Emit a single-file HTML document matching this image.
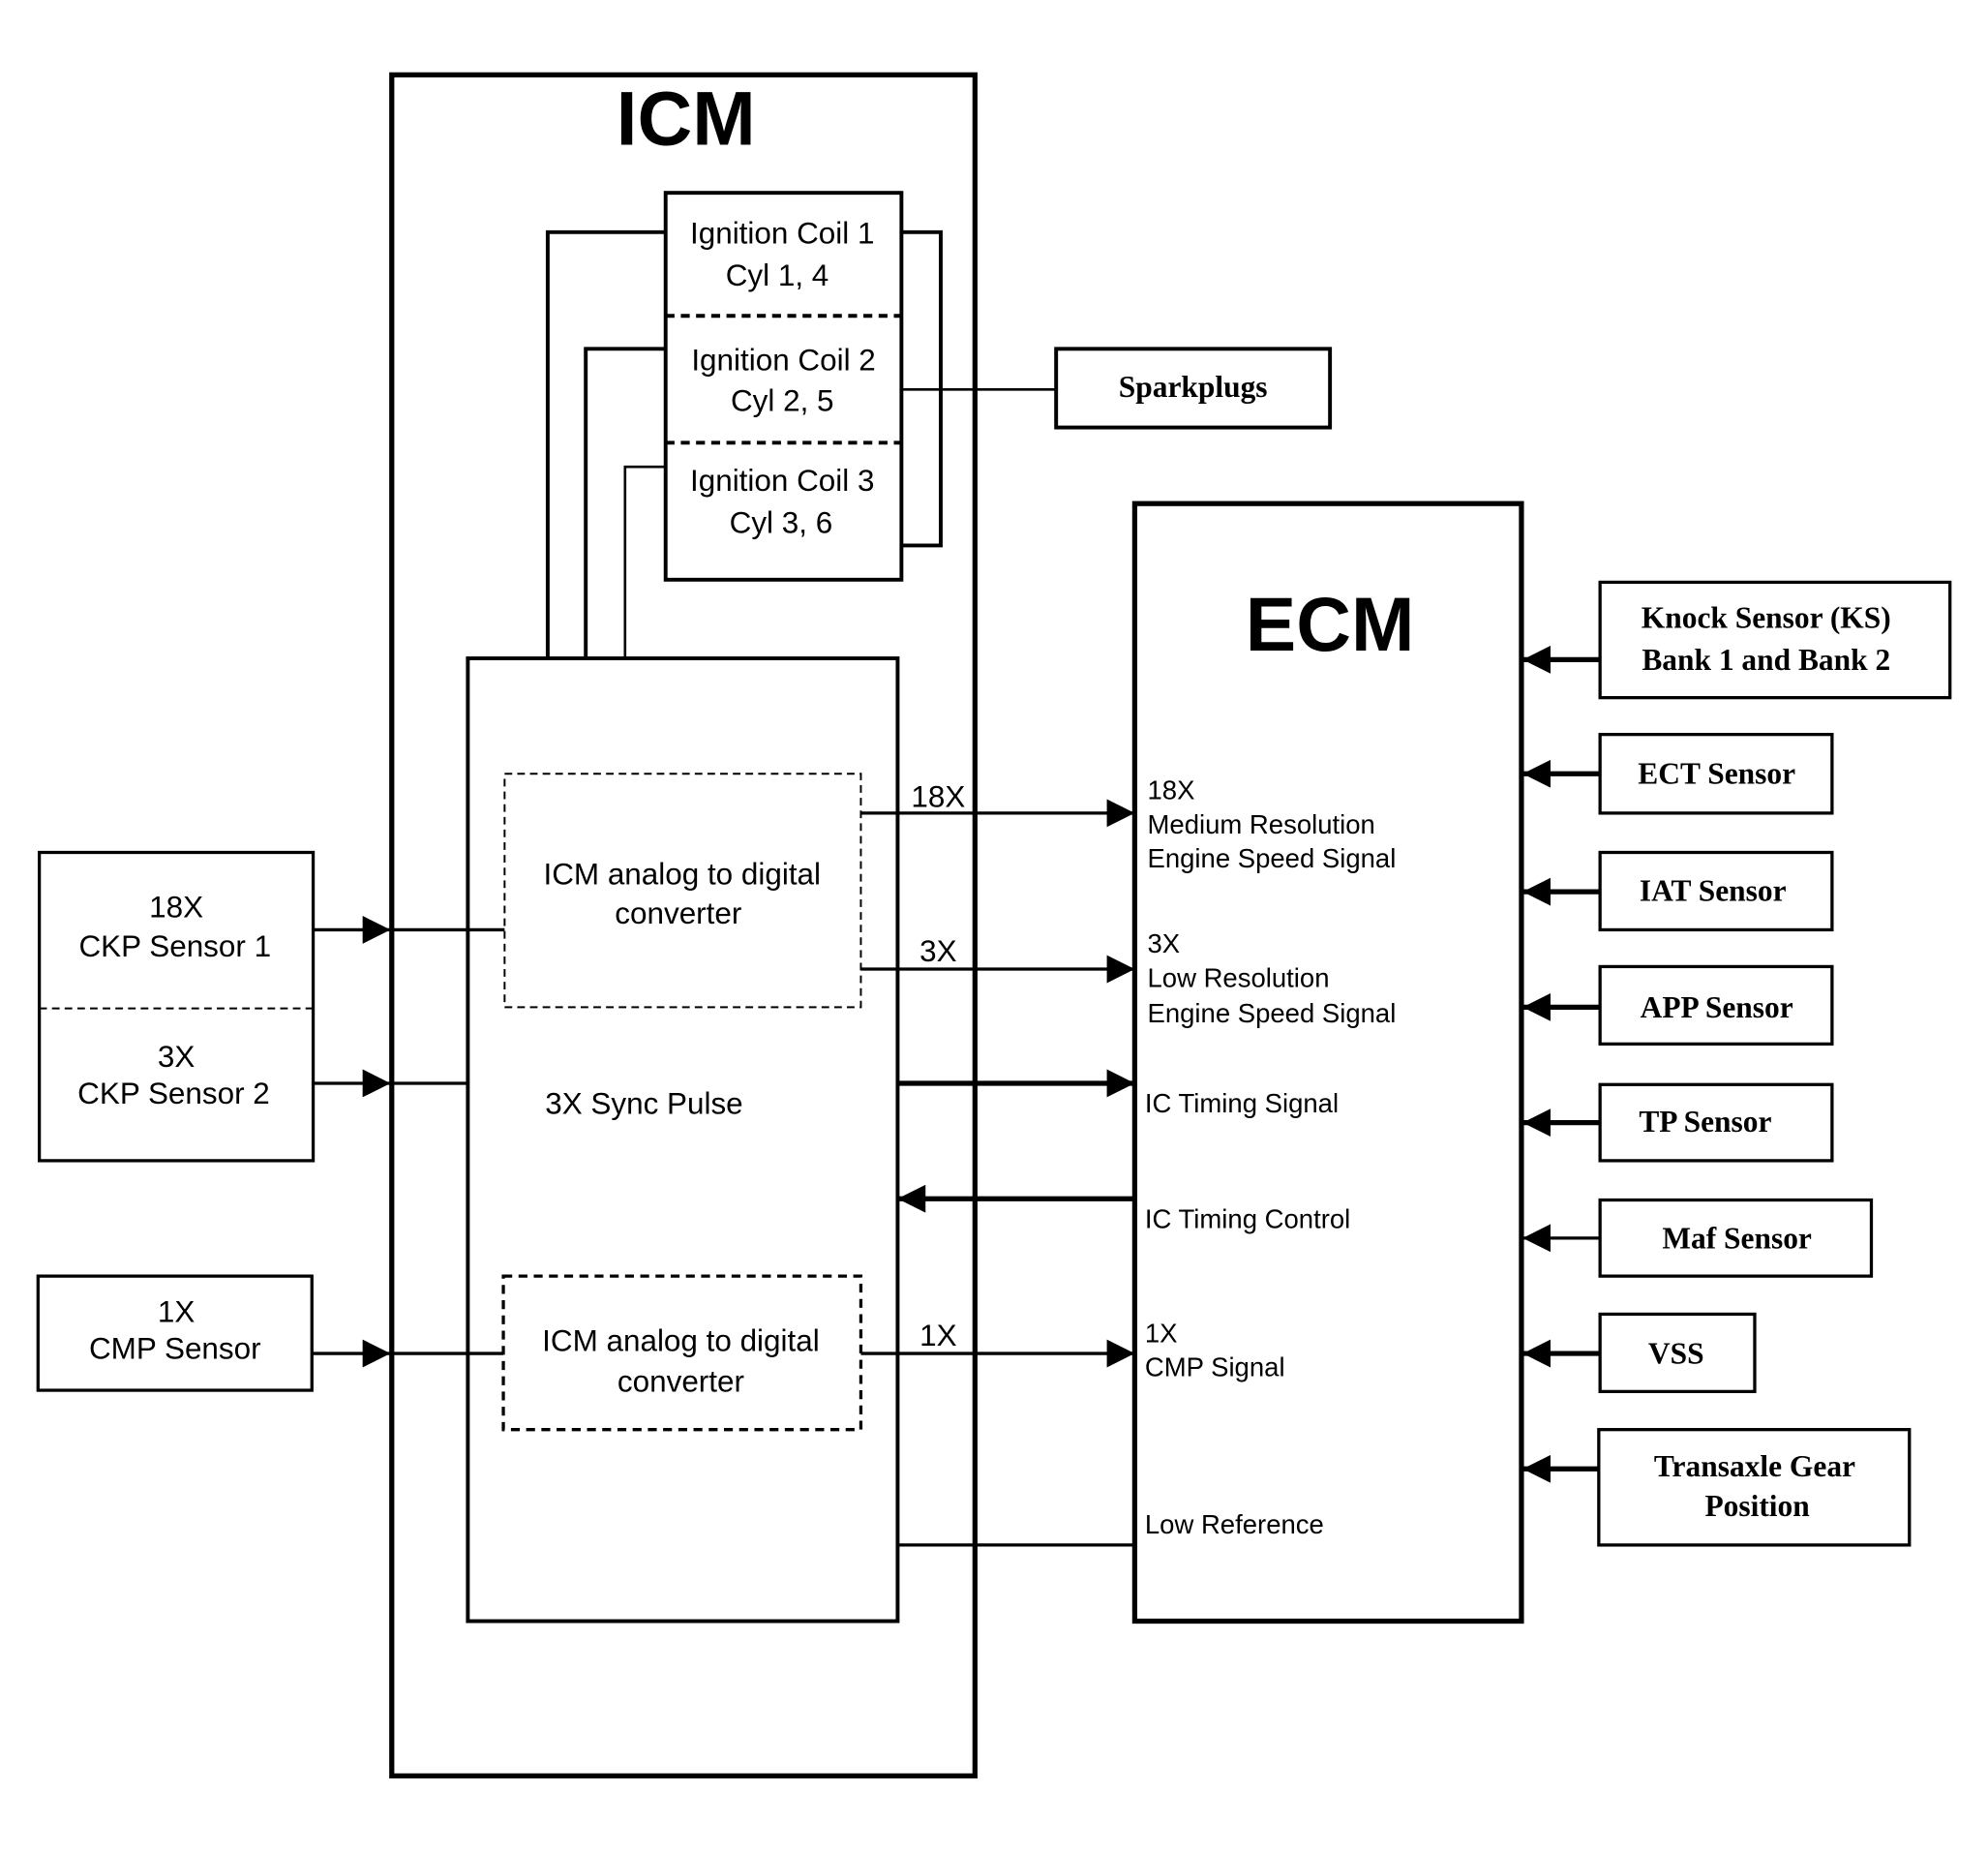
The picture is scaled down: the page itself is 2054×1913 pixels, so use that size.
<!DOCTYPE html>
<html><head><meta charset="utf-8"><style>
html,body{margin:0;padding:0;background:#fff}
svg{display:block}
.s{font-family:"Liberation Sans",sans-serif;font-size:24px}
.m{font-family:"Liberation Sans",sans-serif;font-size:21px}
.b{font-family:"Liberation Serif",serif;font-size:24px;font-weight:bold}
</style></head><body>
<svg width="2054" height="1913" viewBox="0 0 1568 1460" preserveAspectRatio="none" xmlns="http://www.w3.org/2000/svg">
<defs>
<marker id="a" viewBox="0 0 10 10" refX="10" refY="5" markerWidth="22" markerHeight="22" markerUnits="userSpaceOnUse" orient="auto"><path d="M0,0L10,5L0,10z" fill="#000"/></marker>
</defs>
<rect width="1568" height="1460" fill="#fff"/>
<g fill="none" stroke="#000">
<rect x="309" y="59" width="460" height="1341" stroke-width="4"/>
<rect x="525" y="152" width="186" height="305" stroke-width="3"/>
<line x1="525" y1="249" x2="711" y2="249" stroke-width="3" stroke-dasharray="7,5"/>
<line x1="525" y1="349" x2="711" y2="349" stroke-width="3" stroke-dasharray="7,5"/>
<polyline points="432,519 432,183 525,183" stroke-width="3"/>
<polyline points="462,519 462,275 525,275" stroke-width="3"/>
<polyline points="493,519 493,368 525,368" stroke-width="2"/>
<polyline points="711,183 742,183 742,430 711,430" stroke-width="3"/>
<line x1="711" y1="307" x2="833" y2="307" stroke-width="2"/>
<rect x="833" y="275" width="216" height="62" stroke-width="3"/>
<rect x="369" y="519" width="339" height="759" stroke-width="3"/>
<rect x="398" y="610" width="281" height="184" stroke-width="1.5" stroke-dasharray="6,4"/>
<rect x="397" y="1006" width="282" height="121" stroke-width="2.5" stroke-dasharray="7,5"/>
<rect x="895" y="397" width="305" height="881" stroke-width="4"/>
<rect x="31" y="672" width="216" height="243" stroke-width="2.5"/>
<line x1="31" y1="795" x2="247" y2="795" stroke-width="1.5" stroke-dasharray="6,4"/>
<rect x="30" y="1006" width="216" height="90" stroke-width="2.5"/>
<g stroke-width="2.5">
<line x1="247" y1="733" x2="308" y2="733" marker-end="url(#a)"/>
<line x1="309" y1="733" x2="398" y2="733"/>
<line x1="247" y1="854" x2="308" y2="854" marker-end="url(#a)"/>
<line x1="309" y1="854" x2="369" y2="854"/>
<line x1="246" y1="1067" x2="308" y2="1067" marker-end="url(#a)"/>
<line x1="309" y1="1067" x2="397" y2="1067"/>
<line x1="679" y1="641" x2="895" y2="641" marker-end="url(#a)"/>
<line x1="679" y1="764" x2="895" y2="764" marker-end="url(#a)"/>
<line x1="708" y1="854" x2="895" y2="854" stroke-width="4" marker-end="url(#a)"/>
<line x1="895" y1="945" x2="708" y2="945" stroke-width="4" marker-end="url(#a)"/>
<line x1="679" y1="1067" x2="895" y2="1067" marker-end="url(#a)"/>
<line x1="708" y1="1218" x2="895" y2="1218"/>
</g>
<g stroke-width="2.5">
<rect x="1262" y="459" width="276" height="91"/>
<rect x="1262" y="579" width="183" height="62"/>
<rect x="1262" y="672" width="183" height="61"/>
<rect x="1262" y="762" width="183" height="61"/>
<rect x="1262" y="855" width="183" height="60"/>
<rect x="1262" y="946" width="214" height="60"/>
<rect x="1262" y="1036" width="122" height="61"/>
<rect x="1261" y="1127" width="245" height="91"/>
</g>
<g stroke-width="4">
<line x1="1262" y1="520" x2="1201" y2="520" marker-end="url(#a)"/>
<line x1="1262" y1="610" x2="1201" y2="610" marker-end="url(#a)"/>
<line x1="1262" y1="703" x2="1201" y2="703" marker-end="url(#a)"/>
<line x1="1262" y1="794" x2="1201" y2="794" marker-end="url(#a)"/>
<line x1="1262" y1="885" x2="1201" y2="885" marker-end="url(#a)"/>
<line x1="1262" y1="976" x2="1201" y2="976" stroke-width="2.5" marker-end="url(#a)"/>
<line x1="1262" y1="1067" x2="1201" y2="1067" marker-end="url(#a)"/>
<line x1="1261" y1="1158" x2="1201" y2="1158" marker-end="url(#a)"/>
</g>
</g>
<g fill="#000">
<text x="541" y="114" font-family="Liberation Sans,sans-serif" font-weight="bold" font-size="60" text-anchor="middle">ICM</text>
<text x="1049" y="513" font-family="Liberation Sans,sans-serif" font-weight="bold" font-size="60" text-anchor="middle">ECM</text>
<g class="s" text-anchor="middle">
<text x="617" y="192">Ignition Coil 1</text><text x="613" y="225">Cyl 1, 4</text>
<text x="618" y="292">Ignition Coil 2</text><text x="617" y="324">Cyl 2, 5</text>
<text x="617" y="387">Ignition Coil 3</text><text x="616" y="420">Cyl 3, 6</text>
<text x="538" y="697">ICM analog to digital</text><text x="535" y="728">converter</text>
<text x="537" y="1065">ICM analog to digital</text><text x="537" y="1097">converter</text>
<text x="139" y="723">18X</text><text x="138" y="754">CKP Sensor 1</text>
<text x="139" y="841">3X</text><text x="137" y="870">CKP Sensor 2</text>
<text x="139" y="1042">1X</text><text x="138" y="1071">CMP Sensor</text>
<text x="740" y="636">18X</text><text x="740" y="758">3X</text><text x="740" y="1061">1X</text>
<text x="508" y="878">3X Sync Pulse</text>
</g>
<g class="m">
<text x="905" y="630">18X</text><text x="905" y="657">Medium Resolution</text><text x="905" y="684">Engine Speed Signal</text>
<text x="905" y="751">3X</text><text x="905" y="778">Low Resolution</text><text x="905" y="806">Engine Speed Signal</text>
<text x="903" y="877">IC Timing Signal</text>
<text x="903" y="968">IC Timing Control</text>
<text x="903" y="1058">1X</text><text x="903" y="1085">CMP Signal</text>
<text x="903" y="1209">Low Reference</text>
</g>
<g class="b" text-anchor="middle">
<text x="941" y="313">Sparkplugs</text>
<text x="1393" y="495">Knock Sensor (KS)</text><text x="1393" y="528">Bank 1 and Bank 2</text>
<text x="1354" y="618">ECT Sensor</text>
<text x="1351" y="710">IAT Sensor</text>
<text x="1354" y="802">APP Sensor</text>
<text x="1345" y="892">TP Sensor</text>
<text x="1370" y="984">Maf Sensor</text>
<text x="1322" y="1075">VSS</text>
<text x="1384" y="1164">Transaxle Gear</text><text x="1386" y="1195">Position</text>
</g>
</g>
</svg>
</body></html>
